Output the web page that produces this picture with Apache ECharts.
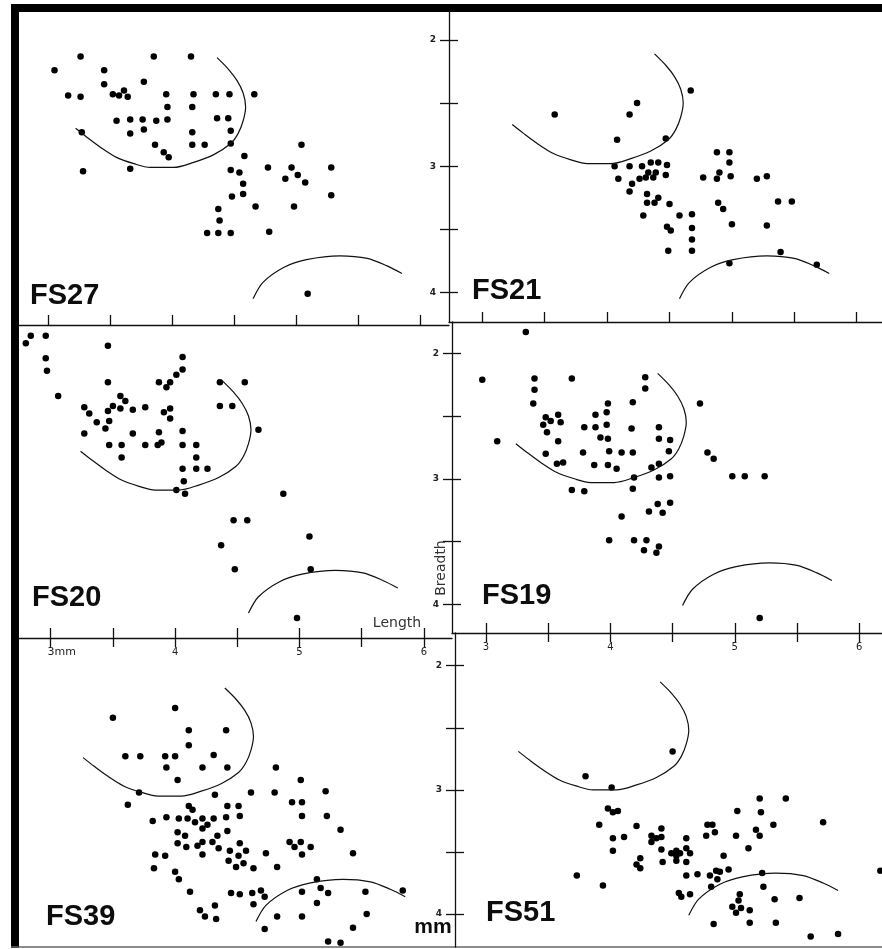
<!DOCTYPE html>
<html>
<head>
<meta charset="utf-8">
<script src="https://cdn.jsdelivr.net/npm/echarts@6/dist/echarts.min.js"></script>
<style>
html, body { margin: 0; padding: 0; background: #fff; }
#chart { width: 882px; height: 949px; }
</style>
</head>
<body>
<div id="chart"></div>
<script>
// values: [length mm, breadth mm]
var fs27 = [[3.05,2.24],[3.26,2.13],[3.85,2.13],[4.15,2.13],[3.45,2.24],[3.45,2.35],[3.77,2.33],[3.16,2.44],[3.26,2.45],[3.52,2.43],[3.57,2.44],[3.61,2.40],[3.64,2.45],[3.95,2.43],[4.17,2.43],[4.35,2.43],[4.46,2.43],[4.66,2.43],[3.96,2.53],[4.16,2.53],[3.55,2.64],[3.66,2.63],[3.76,2.63],[3.87,2.64],[3.96,2.63],[4.36,2.62],[4.45,2.62],[3.66,2.74],[3.77,2.71],[4.16,2.73],[4.47,2.72],[3.27,2.73],[3.86,2.83],[4.16,2.83],[4.26,2.83],[4.47,2.82],[3.93,2.89],[3.97,2.93],[5.04,2.83],[4.58,2.92],[3.28,3.04],[3.66,3.02],[4.47,3.03],[4.54,3.05],[4.77,3.01],[4.96,3.01],[5.28,3.01],[5.01,3.07],[4.91,3.10],[5.07,3.13],[4.57,3.14],[4.57,3.22],[4.48,3.24],[5.28,3.23],[4.67,3.32],[4.98,3.32],[4.37,3.34],[4.38,3.43],[4.28,3.53],[4.37,3.53],[4.47,3.53],[4.78,3.52],[5.09,4.01]]
var fs21 = [[3.58,2.59],[4.24,2.50],[4.18,2.59],[4.67,2.40],[4.08,2.79],[4.47,2.78],[4.06,3.00],[4.18,3.00],[4.28,3.00],[4.35,2.97],[4.41,2.97],[4.48,2.99],[4.09,3.10],[4.20,3.14],[4.26,3.10],[4.31,3.09],[4.33,3.05],[4.39,3.05],[4.37,3.09],[4.47,3.07],[4.18,3.20],[4.32,3.22],[4.41,3.25],[4.32,3.29],[4.38,3.29],[4.29,3.39],[4.50,3.30],[4.58,3.39],[4.68,3.38],[4.48,3.48],[4.51,3.51],[4.68,3.49],[4.68,3.58],[4.49,3.67],[4.68,3.67],[4.77,3.09],[4.88,2.89],[4.98,2.89],[4.98,2.97],[4.90,3.05],[4.88,3.10],[4.99,3.08],[4.89,3.29],[4.93,3.34],[5.00,3.46],[5.20,3.10],[5.28,3.08],[5.37,3.28],[5.48,3.28],[5.28,3.47],[5.39,3.68],[4.98,3.77],[5.68,3.78]]
var fs20 = [[2.80,1.92],[2.84,1.86],[2.96,1.86],[3.46,1.94],[2.96,2.04],[2.97,2.14],[3.06,2.34],[3.46,2.23],[4.06,2.03],[4.06,2.13],[4.01,2.17],[3.96,2.23],[3.87,2.23],[3.93,2.27],[4.36,2.23],[4.56,2.23],[3.56,2.34],[3.60,2.38],[3.27,2.43],[3.31,2.48],[3.37,2.55],[3.50,2.42],[3.46,2.46],[3.56,2.44],[3.66,2.45],[3.76,2.43],[3.47,2.54],[3.44,2.60],[3.27,2.64],[3.66,2.64],[3.91,2.47],[3.96,2.44],[3.96,2.52],[3.87,2.63],[4.36,2.42],[4.46,2.42],[4.67,2.61],[4.06,2.62],[3.47,2.73],[3.57,2.73],[3.76,2.73],[3.86,2.73],[3.89,2.71],[4.06,2.73],[4.17,2.73],[3.57,2.83],[4.17,2.83],[4.06,2.92],[4.17,2.92],[4.26,2.92],[4.07,3.02],[4.01,3.09],[4.08,3.12],[4.87,3.12],[4.47,3.33],[4.58,3.33],[5.08,3.46],[4.37,3.53],[4.48,3.72],[5.09,3.72],[4.98,4.11]]
var fs19 = [[3.32,1.83],[2.97,2.21],[3.39,2.20],[3.39,2.29],[3.38,2.40],[3.69,2.20],[4.28,2.19],[4.28,2.28],[4.18,2.39],[3.98,2.40],[3.97,2.47],[3.88,2.49],[3.48,2.51],[3.58,2.49],[3.46,2.57],[3.52,2.54],[3.60,2.55],[3.49,2.63],[3.58,2.70],[3.09,2.70],[3.79,2.59],[3.88,2.59],[3.97,2.57],[3.92,2.67],[3.98,2.68],[4.17,2.60],[4.39,2.59],[4.39,2.68],[4.48,2.69],[4.47,2.78],[4.72,2.40],[4.78,2.79],[4.83,2.84],[3.48,2.80],[3.78,2.79],[3.99,2.78],[4.09,2.79],[4.18,2.79],[3.57,2.88],[3.62,2.87],[3.87,2.89],[3.98,2.89],[4.05,2.92],[4.33,2.91],[4.39,2.88],[4.19,2.99],[4.39,2.99],[4.48,2.98],[4.98,2.98],[5.08,2.98],[5.24,2.98],[3.69,3.09],[3.79,3.10],[4.18,3.08],[4.38,3.20],[4.48,3.19],[4.31,3.26],[4.42,3.27],[4.09,3.30],[3.99,3.49],[4.19,3.49],[4.29,3.49],[4.27,3.57],[4.39,3.54],[4.37,3.59],[5.20,4.11]]
var fs39 = [[3.50,2.42],[4.00,2.34],[4.11,2.52],[4.41,2.52],[4.11,2.64],[3.60,2.73],[3.72,2.73],[3.92,2.73],[4.00,2.73],[4.31,2.72],[3.93,2.82],[4.22,2.82],[4.42,2.82],[4.02,2.92],[3.71,3.02],[3.62,3.12],[4.81,2.82],[5.01,2.92],[4.32,3.04],[4.61,3.02],[4.80,3.02],[5.21,3.01],[4.94,3.10],[5.02,3.10],[5.02,3.21],[5.22,3.21],[5.33,3.32],[5.43,3.51],[4.11,3.13],[4.14,3.16],[4.42,3.13],[4.51,3.13],[3.82,3.25],[3.93,3.22],[4.03,3.23],[4.10,3.23],[4.16,3.26],[4.22,3.23],[4.31,3.23],[4.41,3.22],[4.52,3.21],[4.26,3.28],[4.22,3.31],[4.02,3.34],[4.08,3.37],[4.42,3.33],[4.34,3.37],[4.02,3.43],[4.09,3.46],[4.18,3.45],[4.22,3.42],[4.30,3.42],[4.35,3.47],[4.22,3.52],[4.44,3.49],[4.52,3.43],[4.57,3.49],[4.51,3.53],[4.43,3.57],[4.55,3.59],[4.49,3.62],[4.63,3.63],[4.73,3.51],[4.82,3.62],[3.84,3.52],[3.92,3.53],[3.83,3.63],[4.00,3.66],[4.03,3.72],[4.12,3.82],[4.45,3.83],[4.52,3.84],[4.62,3.83],[4.69,3.81],[4.72,3.86],[4.92,3.42],[4.96,3.46],[5.01,3.42],[5.09,3.46],[5.02,3.52],[5.02,3.82],[5.14,3.72],[5.17,3.79],[5.23,3.83],[5.53,3.82],[5.83,3.81],[4.63,3.92],[5.14,3.91],[4.82,4.02],[5.02,4.02],[5.54,4.00],[4.72,4.12],[5.43,4.11],[5.23,4.22],[5.33,4.23],[4.20,3.97],[4.24,4.02],[4.32,3.93],[4.33,4.04]]
var fs51 = [[4.50,2.69],[3.80,2.89],[4.01,2.98],[5.20,3.07],[5.41,3.07],[5.02,3.17],[5.21,3.18],[5.71,3.26],[5.31,3.28],[5.17,3.32],[5.20,3.37],[5.01,3.37],[5.11,3.47],[6.17,3.65],[3.73,3.69],[3.94,3.77],[3.98,3.15],[4.02,3.18],[4.06,3.17],[3.91,3.28],[4.21,3.29],[4.41,3.31],[4.02,3.39],[4.11,3.38],[4.02,3.49],[4.33,3.37],[4.33,3.42],[4.37,3.39],[4.41,3.38],[4.41,3.48],[4.24,3.55],[4.21,3.60],[4.24,3.63],[4.42,3.58],[4.49,3.51],[4.53,3.49],[4.53,3.53],[4.56,3.51],[4.53,3.57],[4.61,3.39],[4.61,3.47],[4.64,3.51],[4.61,3.58],[4.61,3.69],[4.70,3.68],[4.80,3.69],[4.85,3.65],[4.88,3.66],[4.86,3.72],[4.95,3.64],[4.91,3.53],[4.77,3.37],[4.78,3.28],[4.82,3.28],[4.84,3.34],[4.81,3.78],[4.55,3.83],[4.57,3.86],[4.64,3.84],[5.22,3.67],[5.23,3.78],[5.04,3.84],[5.03,3.89],[4.98,3.94],[5.05,3.95],[5.01,3.99],[5.12,3.97],[5.32,3.88],[5.52,3.87],[4.83,4.08],[5.12,4.07],[5.33,4.07],[5.61,4.18],[5.83,4.16]]

// the two guide curves (same template in every panel)
var upperArc = [[3.22,2.70],[3.31,2.77],[3.42,2.85],[3.55,2.93],[3.69,2.98],[3.82,3.01],[4.01,3.01],[4.17,2.97],[4.33,2.91],[4.47,2.82],[4.53,2.74],[4.57,2.64],[4.59,2.53],[4.57,2.42],[4.52,2.32],[4.45,2.23],[4.36,2.14]]
var lowerArc = [[4.65,4.05],[4.73,3.92],[4.90,3.80],[5.08,3.74],[5.35,3.71],[5.57,3.73],[5.73,3.79],[5.85,3.85]]
// where each panel's copy of the curves sits
var upperShift = [[0,0],[0.02,-0.03],[0.02,0.08],[0.02,0.02],[0.04,0.04],[0.04,-0.01]]
var lowerShift = [[0,0],[-0.07,0],[-0.06,0.02],[-0.07,-0.04],[0,0.01],[-0.02,-0.04]]

var panelNames = ["FS27", "FS21", "FS20", "FS19", "FS39", "FS51"]
var panelPoints = [fs27, fs21, fs20, fs19, fs39, fs51]
var lengthTicks = [3, 3.5, 4, 4.5, 5, 5.5, 6]
var lengthLabels = [3, 4, 5, 6]
var breadthTicks = [2, 2.5, 3, 3.5, 4]
var breadthLabels = [2, 3, 4]

// page geometry of each panel: box [x1,y1,x2,y2], pixel of length 3 / breadth 2 and px per mm
var layout = [
	{ box: [18, 11, 449, 325], x0: 48.3, sx: 124.1, y0: 40, sy: 126.2, col: 0, row: 0, tag: [30, 296] },
	{ box: [449, 11, 882, 322], x0: 482.3, sx: 124.8, y0: 40, sy: 126.2, col: 1, row: 0, tag: [472, 291] },
	{ box: [18, 325, 452, 638], x0: 50.7, sx: 124.4, y0: 353.3, sy: 125.5, col: 0, row: 1, tag: [32, 598] },
	{ box: [452, 322, 882, 633], x0: 486, sx: 124.4, y0: 353.3, sy: 125.5, col: 1, row: 1, tag: [482, 596] },
	{ box: [18, 638, 455, 947], x0: 50.7, sx: 124.4, y0: 665.7, sy: 124.2, col: 0, row: 2, tag: [46, 917] },
	{ box: [455, 633, 882, 947], x0: 486, sx: 124.4, y0: 665.7, sy: 124.2, col: 1, row: 2, tag: [486, 913] }
]

var ink = "#111"
var grids = [], xAxes = [], yAxes = [], series = [], graphics = []

layout.forEach(function(p, i) {
	var b = p.box
	grids.push({
		left: b[0], top: b[1], width: b[2] - b[0], height: b[3] - b[1],
		containLabel: false, outerBoundsMode: "none"
	})
	var bottomRow = p.row === 2
	xAxes.push({
		gridIndex: i,
		type: "value",
		min: 3 - (p.x0 - b[0]) / p.sx,
		max: 3 + (b[2] - p.x0) / p.sx,
		position: bottomRow ? "top" : "bottom",
		axisLine: { show: !bottomRow, onZero: false, lineStyle: { color: ink, width: 1.3 } },
		axisTick: { show: true, inside: true, length: bottomRow ? 9 : 10, customValues: lengthTicks, lineStyle: { color: ink, width: 1.3 } },
		axisLabel: {
			show: bottomRow,
			inside: true,
			margin: 9,
			customValues: lengthLabels,
			fontSize: 10,
			fontFamily: "DejaVu Sans",
			color: "#222",
			formatter: function(v) {
				return v === 3 && p.col === 0 ? "{m|3mm}" : "" + v
			},
			rich: { m: { fontSize: 11, fontFamily: "DejaVu Sans", color: "#222", padding: [0, 0, 0, 22] } }
		},
		splitLine: { show: false }
	})
	var leftCol = p.col === 0
	yAxes.push({
		gridIndex: i,
		type: "value",
		inverse: true,
		min: 2 - (p.y0 - b[1]) / p.sy,
		max: 2 + (b[3] - p.y0) / p.sy,
		position: leftCol ? "right" : "left",
		axisLine: { show: !leftCol, onZero: false, lineStyle: { color: ink, width: 1.3 } },
		axisTick: { show: true, inside: true, length: 9, customValues: breadthTicks, lineStyle: { color: ink, width: 1.3 } },
		axisLabel: {
			show: leftCol,
			inside: true,
			margin: 13,
			customValues: breadthLabels,
			fontSize: 9,
			fontWeight: "bold",
			fontFamily: "DejaVu Sans",
			color: "#222"
		},
		splitLine: { show: false }
	})
	series.push({
		name: panelNames[i],
		type: "scatter",
		xAxisIndex: i,
		yAxisIndex: i,
		data: panelPoints[i],
		symbolSize: 6.5,
		clip: false,
		itemStyle: { color: "#000", opacity: 1 },
		silent: true
	})
	// guide curves, moved to where they sit in this panel
	var us = upperShift[i], ls = lowerShift[i]
	series.push({
		type: "line", xAxisIndex: i, yAxisIndex: i, silent: true,
		data: upperArc.map(function(d) { return [d[0] + us[0], d[1] + us[1]] }),
		smooth: 0.3, showSymbol: false, clip: false,
		lineStyle: { color: ink, width: 1.2 }
	})
	series.push({
		type: "line", xAxisIndex: i, yAxisIndex: i, silent: true,
		data: lowerArc.map(function(d) { return [d[0] + ls[0], d[1] + ls[1]] }),
		smooth: 0.3, showSymbol: false, clip: false,
		lineStyle: { color: ink, width: 1.2 }
	})
	graphics.push({
		type: "text", x: p.tag[0], y: p.tag[1],
		style: { text: panelNames[i], font: "bold 29px 'Liberation Sans'", fill: "#0d0d0d", verticalAlign: "middle" }
	})
})

// scan frame
graphics.push({ type: "rect", shape: { x: 11, y: 4, width: 871, height: 8 }, style: { fill: "#000" } })
graphics.push({ type: "rect", shape: { x: 11, y: 4, width: 8, height: 944 }, style: { fill: "#000" } })
graphics.push({ type: "line", shape: { x1: 11, y1: 947, x2: 882, y2: 947 }, style: { stroke: "#666", lineWidth: 1.5 } })
// axis names
graphics.push({ type: "text", x: 397, y: 623, style: { text: "Length", font: "14px 'DejaVu Sans'", fill: "#333", align: "center", verticalAlign: "middle" } })
graphics.push({ type: "text", x: 441, y: 568, rotation: Math.PI / 2, style: { text: "Breadth", font: "14px 'DejaVu Sans'", fill: "#333", align: "center", verticalAlign: "middle" } })
graphics.push({ type: "text", x: 433, y: 927, style: { text: "mm", font: "bold 21px 'Liberation Sans'", fill: "#0d0d0d", align: "center", verticalAlign: "middle" } })

var chart = echarts.init(document.getElementById("chart"), null, { renderer: "canvas" })
chart.setOption({
	animation: false,
	backgroundColor: "#fff",
	grid: grids,
	xAxis: xAxes,
	yAxis: yAxes,
	series: series,
	graphic: { elements: graphics }
})
</script>
</body>
</html>
